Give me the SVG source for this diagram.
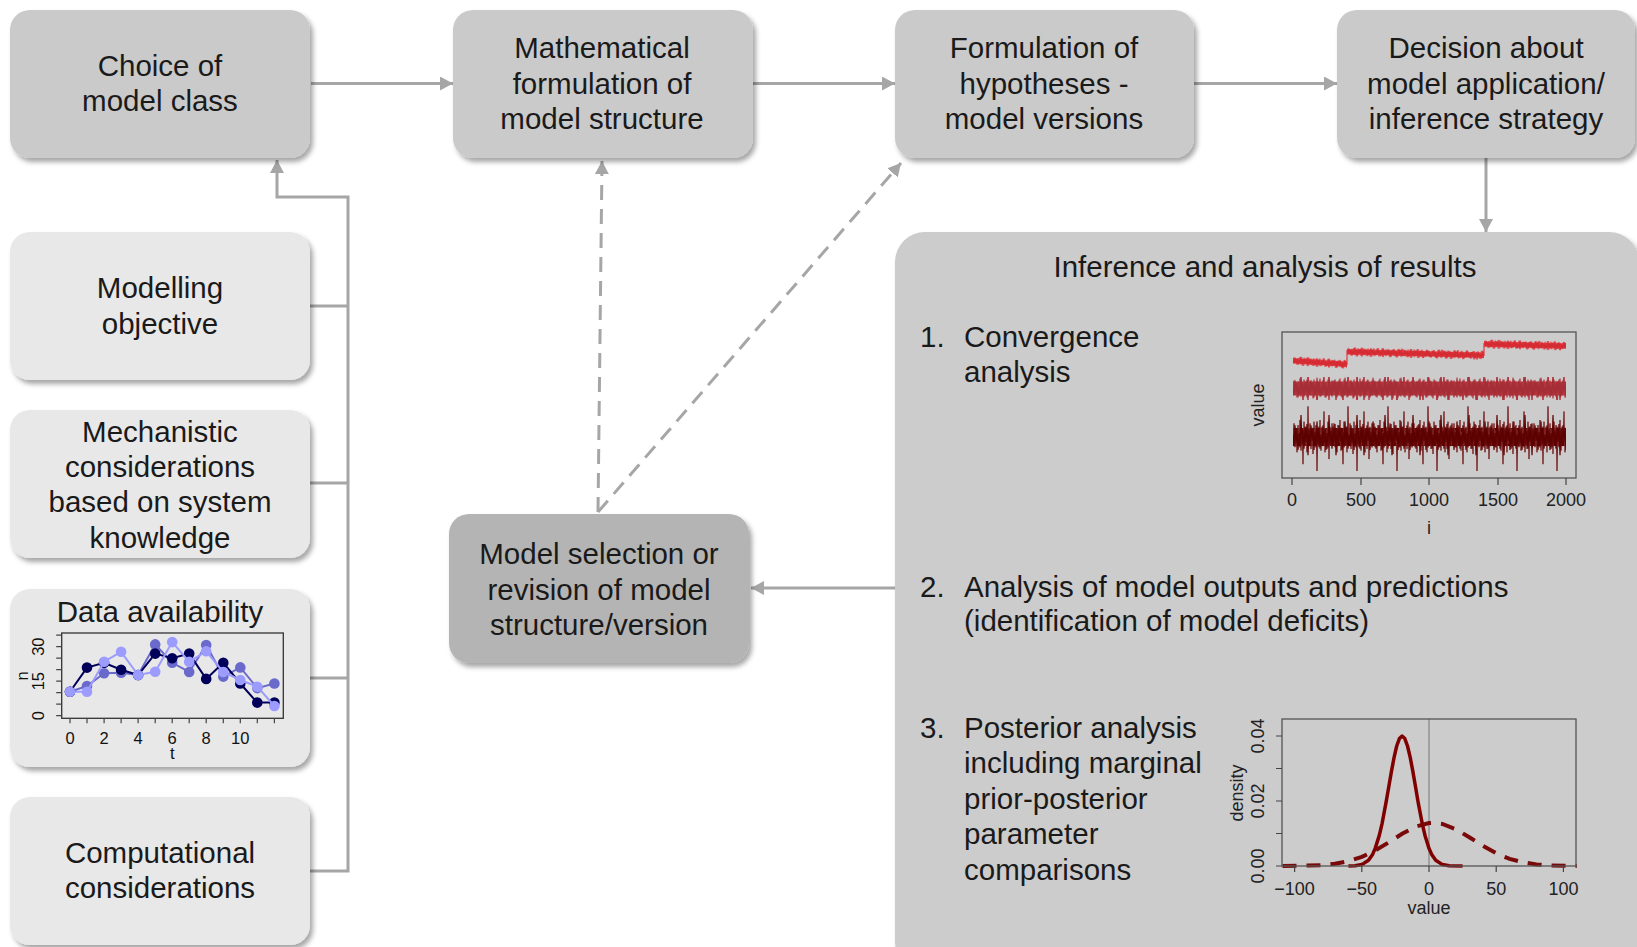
<svg xmlns="http://www.w3.org/2000/svg" width="1637" height="947" viewBox="0 0 1637 947">
<defs>
<style>
text{font-family:"Liberation Sans",Arial,sans-serif;fill:#1a1a1a}
.t{font-size:29.5px;text-anchor:middle}
.l{font-size:29.5px}
.ax{font-size:18px;text-anchor:middle;fill:#222}
.ax2{font-size:16.5px;text-anchor:middle;fill:#111}
.top{fill:#cacaca;filter:url(#sh)}
.side{fill:#e8e8e8;filter:url(#sh)}
.con{fill:none;stroke:#a6a6a6;stroke-width:3}
.dash{stroke-dasharray:15 9}
.frame{fill:none;stroke:#555;stroke-width:1.3}
.tick{fill:none;stroke:#444;stroke-width:1.2}
</style>
<filter id="sh" x="-5%" y="-5%" width="115%" height="120%"><feDropShadow dx="3" dy="4" stdDeviation="2.5" flood-color="#000" flood-opacity="0.35"/></filter>
<marker id="ah" viewBox="0 0 13 14" refX="13" refY="7" markerWidth="13" markerHeight="14" markerUnits="userSpaceOnUse" orient="auto"><path d="M0,0 L13,7 L0,14 z" fill="#a6a6a6"/></marker>
<marker id="mD" viewBox="0 0 12 12" refX="6" refY="6" markerWidth="12" markerHeight="12" markerUnits="userSpaceOnUse"><circle cx="6" cy="6" r="5.3" fill="#00005a"/></marker>
<marker id="mM" viewBox="0 0 12 12" refX="6" refY="6" markerWidth="12" markerHeight="12" markerUnits="userSpaceOnUse"><circle cx="6" cy="6" r="5.3" fill="#6a6acd"/></marker>
<marker id="mL" viewBox="0 0 12 12" refX="6" refY="6" markerWidth="12" markerHeight="12" markerUnits="userSpaceOnUse"><circle cx="6" cy="6" r="5.3" fill="#9c9cff"/></marker>
<polyline id="z1" fill="none" vector-effect="non-scaling-stroke" points="0,0.1 1,-0.8 2,0.6 3,-0.4 4,0.9 5,-0.7 6,0.3 7,-1 8,0.8 9,-0.3 10,1.6 11,-0.9 12,0.5 13,-0.6 14,0.9 15,-1.8 16,0.4 17,-0.8 18,0.7 19,-0.5 20,1 21,-0.9 22,0.3 23,-0.7 24,2 25,-0.4 26,0.6 27,-1 28,0.8 29,-0.6 30,0.2 31,-1.5 32,0.9 33,-0.5 34,0.7 35,-0.9 36,1.3 37,-0.6 38,0.5 39,-0.8 40,0.1"/>
<polyline id="z2" fill="none" vector-effect="non-scaling-stroke" points="0,-0.2 1,0.7 2,-0.9 3,0.5 4,-0.6 5,1 6,-0.3 7,0.8 8,-1.7 9,0.6 10,-0.5 11,0.9 12,-0.8 13,0.4 14,-1 15,1.4 16,-0.6 17,0.7 18,-0.9 19,0.3 20,-0.7 21,1 22,-0.4 23,0.8 24,-1.2 25,0.6 26,-0.8 27,0.9 28,-0.2"/>
<pattern id="p1" patternUnits="userSpaceOnUse" x="0" y="-50" width="40" height="100"><use href="#z1" transform="translate(0,50) scale(1,4)" stroke="#e3363d" stroke-width="1.3"/></pattern>
<pattern id="p1b" patternUnits="userSpaceOnUse" x="0" y="-50" width="28" height="100"><use href="#z2" transform="translate(0,50) scale(1,3.5)" stroke="#d42a32" stroke-width="1.2"/></pattern>
<pattern id="p2" patternUnits="userSpaceOnUse" x="0" y="-50" width="40" height="100"><use href="#z1" transform="translate(0,50) scale(1,10)" stroke="#b3363e" stroke-width="1.2"/></pattern>
<pattern id="p2b" patternUnits="userSpaceOnUse" x="0" y="-50" width="28" height="100"><use href="#z2" transform="translate(0,50) scale(1,9)" stroke="#a52d35" stroke-width="1.2"/></pattern>
<pattern id="p3" patternUnits="userSpaceOnUse" x="0" y="-50" width="40" height="100"><use href="#z1" transform="translate(0,50) scale(1,17)" stroke="#7a2525" stroke-width="1"/></pattern>
<pattern id="p3b" patternUnits="userSpaceOnUse" x="0" y="-50" width="28" height="100"><use href="#z2" transform="translate(0,50) scale(1,13)" stroke="#5c0000" stroke-width="1.2"/></pattern>
</defs>
<rect width="1637" height="947" fill="#fff"/>

<g id="connectors">
<path class="con" d="M311,83.5 H453" marker-end="url(#ah)"/>
<path class="con" d="M753,83.5 H895" marker-end="url(#ah)"/>
<path class="con" d="M1194,83.5 H1337" marker-end="url(#ah)"/>
<path class="con" d="M1486,158 V232" marker-end="url(#ah)"/>
<path class="con" d="M310,306 H348 M310,483 H348 M310,678 H348"/>
<path class="con" d="M310,871 H348 V197 H277 V160" marker-end="url(#ah)"/>
<path class="con dash" d="M598,512 L602,161" marker-end="url(#ah)"/>
<path class="con dash" d="M598,512 L901,163" marker-end="url(#ah)"/>
<path class="con" d="M895,588 H751" marker-end="url(#ah)"/>
</g>

<g id="choice">
<rect class="top" x="10" y="10" width="300" height="148" rx="20"/>
<text class="t" x="160" y="76">Choice of</text>
<text class="t" x="160" y="111">model class</text>
</g>
<g id="math">
<rect class="top" x="453" y="10" width="300" height="148" rx="20"/>
<text class="t" x="602" y="58">Mathematical</text>
<text class="t" x="602" y="94">formulation of</text>
<text class="t" x="602" y="129">model structure</text>
</g>
<g id="hypotheses">
<rect class="top" x="895" y="10" width="299" height="148" rx="20"/>
<text class="t" x="1044" y="58">Formulation of</text>
<text class="t" x="1044" y="94">hypotheses -</text>
<text class="t" x="1044" y="129">model versions</text>
</g>
<g id="decision">
<rect class="top" x="1337" y="10" width="298" height="148" rx="20"/>
<text class="t" x="1486" y="58">Decision about</text>
<text class="t" x="1486" y="94">model application/</text>
<text class="t" x="1486" y="129">inference strategy</text>
</g>

<g id="objective">
<rect class="side" x="10" y="232" width="300" height="148" rx="20"/>
<text class="t" x="160" y="298">Modelling</text>
<text class="t" x="160" y="334">objective</text>
</g>
<g id="mechanistic">
<rect class="side" x="10" y="410" width="300" height="148" rx="20"/>
<text class="t" x="160" y="442">Mechanistic</text>
<text class="t" x="160" y="477">considerations</text>
<text class="t" x="160" y="512">based on system</text>
<text class="t" x="160" y="548">knowledge</text>
</g>
<g id="data">
<rect class="side" x="10" y="589" width="300" height="178" rx="20"/>
<text class="t" x="160" y="622">Data availability</text>
<rect x="61.7" y="633" width="221.6" height="85.3" fill="none" stroke="#333" stroke-width="1.3"/>
<path class="tick" d="M61.7,715.7h-5.5M61.7,704.2h-5.5M61.7,692.7h-5.5M61.7,681.2h-5.5M61.7,669.7h-5.5M61.7,658.2h-5.5M61.7,646.7h-5.5M61.7,635.2h-5.5"/>
<path class="tick" d="M70,718.3v5M87,718.3v5M104.1,718.3v5M121.1,718.3v5M138.1,718.3v5M155.2,718.3v5M172.2,718.3v5M189.2,718.3v5M206.2,718.3v5M223.3,718.3v5M240.3,718.3v5M257.3,718.3v5M274.4,718.3v5"/>
<text class="ax2" x="70" y="744">0</text>
<text class="ax2" x="104.1" y="744">2</text>
<text class="ax2" x="138.1" y="744">4</text>
<text class="ax2" x="172.2" y="744">6</text>
<text class="ax2" x="206.2" y="744">8</text>
<text class="ax2" x="240.3" y="744">10</text>
<text class="ax2" x="172.2" y="759">t</text>
<text class="ax2" transform="translate(44,715.7) rotate(-90)">0</text>
<text class="ax2" transform="translate(44,681.2) rotate(-90)">15</text>
<text class="ax2" transform="translate(44,646.7) rotate(-90)">30</text>
<text class="ax2" transform="translate(28,676) rotate(-90)">n</text>
<polyline fill="none" stroke="#6a6acd" stroke-width="2" marker-start="url(#mM)" marker-mid="url(#mM)" marker-end="url(#mM)" points="70,691.8 87,686 104.1,673.2 121.1,672.7 138.1,675 155.2,644.4 172.2,662.8 189.2,672 206.2,645.1 223.3,676.6 240.3,667.4 257.3,688.1 274.4,683.5"/>
<polyline fill="none" stroke="#00005a" stroke-width="2" marker-start="url(#mD)" marker-mid="url(#mD)" marker-end="url(#mD)" points="70,691.8 87,667.6 104.1,662.8 121.1,669.7 138.1,675 155.2,653.6 172.2,658.2 189.2,653.6 206.2,678.9 223.3,662.8 240.3,683.5 257.3,702.6 274.4,702.6"/>
<polyline fill="none" stroke="#9c9cff" stroke-width="2" marker-start="url(#mL)" marker-mid="url(#mL)" marker-end="url(#mL)" points="70,691.8 87,691.8 104.1,661.7 121.1,651.8 138.1,675 155.2,671.8 172.2,642.1 189.2,661.7 206.2,651.3 223.3,672 240.3,680 257.3,686.7 274.4,706"/>
</g>
<g id="computational">
<rect class="side" x="10" y="797" width="300" height="148" rx="20"/>
<text class="t" x="160" y="863">Computational</text>
<text class="t" x="160" y="898">considerations</text>
</g>

<g id="selection">
<rect x="449" y="514" width="300" height="149" rx="20" fill="#b4b4b4" filter="url(#sh)"/>
<text class="t" x="599" y="564">Model selection or</text>
<text class="t" x="599" y="600">revision of model</text>
<text class="t" x="599" y="635">structure/version</text>
</g>

<g id="inference">
<rect x="895" y="232" width="744" height="740" rx="30" fill="#cccccc" filter="url(#sh)"/>
<text class="t" x="1265" y="277">Inference and analysis of results</text>
<text class="l" x="920" y="347">1.</text>
<text class="l" x="964" y="347">Convergence</text>
<text class="l" x="964" y="382">analysis</text>
<text class="l" x="920" y="597">2.</text>
<text class="l" x="964" y="597">Analysis of model outputs and predictions</text>
<text class="l" x="964" y="631">(identification of model deficits)</text>
<text class="l" x="920" y="738">3.</text>
<text class="l" x="964" y="738">Posterior analysis</text>
<text class="l" x="964" y="773">including marginal</text>
<text class="l" x="964" y="809">prior-posterior</text>
<text class="l" x="964" y="844">parameter</text>
<text class="l" x="964" y="880">comparisons</text>

<g id="traceplot">
<g transform="translate(1293,437)">
<rect x="0" y="-9" width="273" height="18" fill="#650000"/>
<rect x="0" y="-34" width="273" height="68" fill="url(#p3)"/>
<rect x="0" y="-26" width="273" height="52" fill="url(#p3b)"/>
</g>
<g transform="translate(1293,388.5)">
<rect x="0" y="-7" width="273" height="14" fill="#b3363e"/>
<rect x="0" y="-11.5" width="273" height="23" fill="url(#p2)"/>
<rect x="0" y="-11.5" width="273" height="23" fill="url(#p2b)"/>
</g>
<g transform="matrix(1,0.067,0,1,1293,360.7)">
<rect x="0" y="-2.5" width="54" height="5" fill="#e3363d"/>
<rect x="0" y="-4.5" width="54" height="9" fill="url(#p1)"/>
<rect x="0" y="-4.5" width="54" height="9" fill="url(#p1b)"/>
</g>
<g transform="matrix(1,0.026,0,1,1347,351.7)">
<rect x="0" y="-2.5" width="137" height="5" fill="#e3363d"/>
<rect x="0" y="-4.5" width="137" height="9" fill="url(#p1)"/>
<rect x="0" y="-4.5" width="137" height="9" fill="url(#p1b)"/>
</g>
<g transform="matrix(1,0.025,0,1,1484,344)">
<rect x="0" y="-2.5" width="82" height="5" fill="#e3363d"/>
<rect x="0" y="-4.5" width="82" height="9" fill="url(#p1)"/>
<rect x="0" y="-4.5" width="82" height="9" fill="url(#p1b)"/>
</g>
<path d="M1347,365 V350 M1484,356 V343" stroke="#e3363d" stroke-width="1.2"/>
<rect class="frame" x="1282" y="332" width="294" height="146"/>
<path class="tick" d="M1292,478v7M1361,478v7M1429,478v7M1498,478v7M1566,478v7"/>
<text class="ax" x="1292" y="506">0</text>
<text class="ax" x="1361" y="506">500</text>
<text class="ax" x="1429" y="506">1000</text>
<text class="ax" x="1498" y="506">1500</text>
<text class="ax" x="1566" y="506">2000</text>
<text class="ax" x="1429" y="534">i</text>
<text class="ax" transform="translate(1264,405) rotate(-90)">value</text>
</g>

<g id="densityplot">
<path d="M1429,719 V866" stroke="#777" stroke-width="1"/>
<path fill="none" stroke="#7a0a0a" stroke-width="4" stroke-dasharray="14 10" d="M1282.5,866 L1308,865.6 L1321.5,865.1 L1334.9,863.8 L1348.4,861.2 L1361.8,856.9 L1375.2,850.5 L1388.7,842.4 L1402.1,833.8 L1415.6,826.7 L1429,823 L1433,822.8 L1442.4,824 L1455.9,829.2 L1469.3,837.2 L1482.8,845.8 L1496.2,853.3 L1509.6,858.9 L1523.1,862.4 L1536.5,864.4 L1550,865.4 L1576.8,866"/>
<path fill="none" stroke="#800000" stroke-width="3.5" stroke-linejoin="round" d="M1348.4,866 L1355.1,865.7 L1361.8,864.6 L1368.5,860.3 L1372.6,854.4 L1375.2,848.4 L1379.3,835.4 L1382,823.8 L1386,802.7 L1388.7,787.2 L1391.4,771.6 L1394.1,757.4 L1396.7,746 L1399.4,738.6 L1402.1,736 L1404.8,738.6 L1407.5,746 L1410.2,757.4 L1412.9,771.6 L1415.6,787.2 L1418.2,802.7 L1422.3,823.8 L1425,835.4 L1429,848.4 L1431.7,854.4 L1435.7,860.3 L1442.4,864.6 L1449.2,865.7 L1462.6,866"/>
<rect class="frame" x="1282" y="719" width="294" height="147"/>
<path class="tick" d="M1282,866h-6M1282,833.5h-6M1282,801h-6M1282,768.5h-6M1282,736h-6"/>
<path class="tick" d="M1294.6,866v6M1361.8,866v6M1429,866v6M1496.2,866v6M1563.4,866v6"/>
<text class="ax" x="1294.6" y="895">−100</text>
<text class="ax" x="1361.8" y="895">−50</text>
<text class="ax" x="1429" y="895">0</text>
<text class="ax" x="1496.2" y="895">50</text>
<text class="ax" x="1563.4" y="895">100</text>
<text class="ax" x="1429" y="914">value</text>
<text class="ax" transform="translate(1264,866) rotate(-90)">0.00</text>
<text class="ax" transform="translate(1264,801) rotate(-90)">0.02</text>
<text class="ax" transform="translate(1264,736) rotate(-90)">0.04</text>
<text class="ax" transform="translate(1243,793) rotate(-90)">density</text>
</g>
</g>
</svg>
